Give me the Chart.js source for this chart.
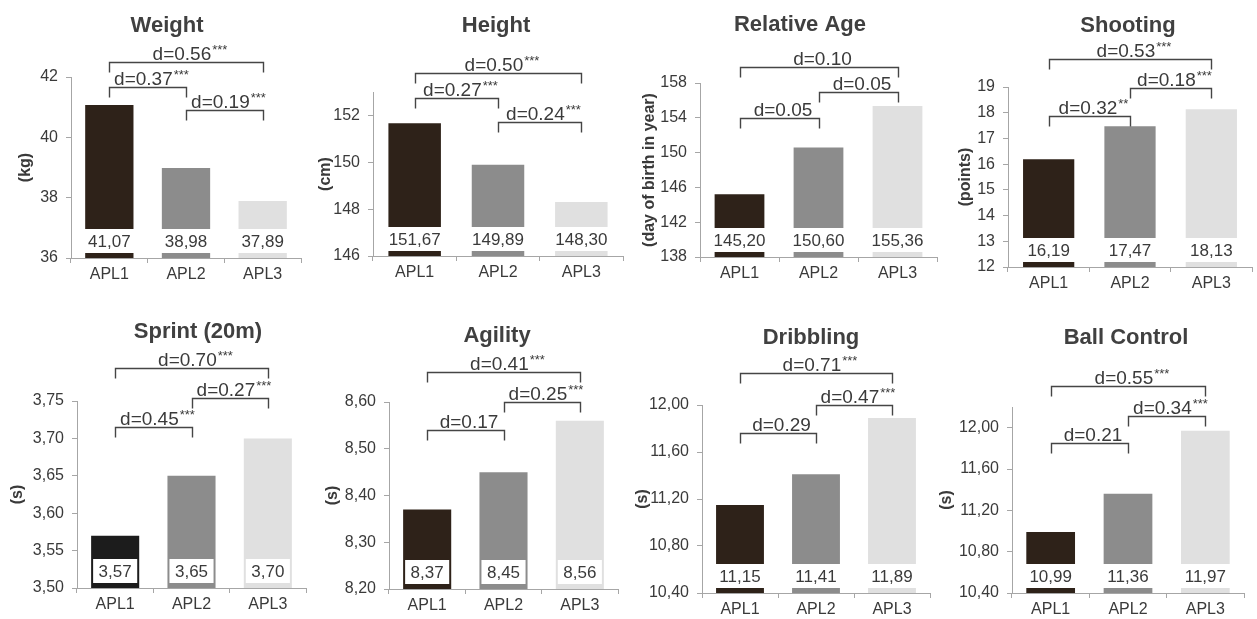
<!DOCTYPE html>
<html>
<head>
<meta charset="utf-8">
<script src="https://cdn.jsdelivr.net/npm/chart.js@4"></script>
<style>
  html, body { margin: 0; padding: 0; background: #fff; width: 1257px; height: 619px; overflow: hidden; position: relative; }
  canvas { position: absolute; }
</style>
</head>
<body>
<script>
'use strict';

// ── Data ──────────────────────────────────────────────────────────────────────

const categories = ['APL1', 'APL2', 'APL3'];

const titles = ['Weight', 'Height', 'Relative Age', 'Shooting', 'Sprint (20m)', 'Agility', 'Dribbling', 'Ball Control'];
const units  = ['(kg)', '(cm)', '(day of birth in year)', '(points)', '(s)', '(s)', '(s)', '(s)'];

const weightValues   = [41.07, 38.98, 37.89];
const heightValues   = [151.67, 149.89, 148.30];
const relAgeValues   = [145.20, 150.60, 155.36];
const shootingValues = [16.19, 17.47, 18.13];
const sprintValues   = [3.57, 3.65, 3.70];
const agilityValues  = [8.37, 8.45, 8.56];
const dribbleValues  = [11.15, 11.41, 11.89];
const ballValues     = [10.99, 11.36, 11.97];

const weightTicks   = [36, 38, 40, 42];
const heightTicks   = [146, 148, 150, 152];
const relAgeTicks   = [138, 142, 146, 150, 154, 158];
const shootingTicks = [12, 13, 14, 15, 16, 17, 18, 19];
const sprintTicks   = [3.50, 3.55, 3.60, 3.65, 3.70, 3.75];
const agilityTicks  = [8.20, 8.30, 8.40, 8.50, 8.60];
const dribbleTicks  = [10.40, 10.80, 11.20, 11.60, 12.00];
const ballTicks     = [10.40, 10.80, 11.20, 11.60, 12.00];

// axis ranges (min, max)
const weightRange   = [36, 42];
const heightRange   = [146, 153];
const relAgeRange   = [138, 158];
const shootingRange = [12, 19];
const sprintRange   = [3.50, 3.75];
const agilityRange  = [8.20, 8.60];
const dribbleRange  = [10.40, 12.00];
const ballRange     = [10.40, 12.20];

// effect sizes, top bracket first, with the pair of groups they compare
const weightEffects   = ['d=0.56***', 'd=0.37***', 'd=0.19***'];
const heightEffects   = ['d=0.50***', 'd=0.27***', 'd=0.24***'];
const relAgeEffects   = ['d=0.10', 'd=0.05', 'd=0.05'];
const shootingEffects = ['d=0.53***', 'd=0.18***', 'd=0.32**'];
const sprintEffects   = ['d=0.70***', 'd=0.27***', 'd=0.45***'];
const agilityEffects  = ['d=0.41***', 'd=0.25***', 'd=0.17'];
const dribbleEffects  = ['d=0.71***', 'd=0.47***', 'd=0.29'];
const ballEffects     = ['d=0.55***', 'd=0.34***', 'd=0.21'];

const pairsDown = [[0, 2], [0, 1], [1, 2]];
const pairsUp   = [[0, 2], [1, 2], [0, 1]];

// ── Style ─────────────────────────────────────────────────────────────────────

const FONT  = '"Liberation Sans", Arial, Helvetica, sans-serif';
const TEXT  = '#3a3a3a';
const AXIS  = '#a6a6a6';
const BRACE = '#454545';
const BROWN = '#2e2219';
const BLACK = '#1c1c1c';
const MID   = '#8c8c8c';
const LIGHT = '#e0e0e0';

// page layout: chart area [l, t, r, b], title [centre x, baseline], y title centre x,
// bracket offsets from chart-area top, inset of the value box
const panels = [
  { values: weightValues,   ticks: weightTicks,   range: weightRange,   effects: weightEffects,   pairs: pairsDown, dec: 0, dark: BROWN,
    area: [71, 77, 301, 258],    title: [167, 32],   yTitleX: 26,  levels: [-15, 10, 33], inset: -1 },
  { values: heightValues,   ticks: heightTicks,   range: heightRange,   effects: heightEffects,   pairs: pairsDown, dec: 0, dark: BROWN,
    area: [373, 92, 623, 256],   title: [496, 32],   yTitleX: 326, levels: [-19, 6, 30],  inset: -1 },
  { values: relAgeValues,   ticks: relAgeTicks,   range: relAgeRange,   effects: relAgeEffects,   pairs: pairsUp,   dec: 0, dark: BROWN,
    area: [700, 83, 937, 257],   title: [800, 31],   yTitleX: 650, levels: [-16, 9, 35],  inset: -1 },
  { values: shootingValues, ticks: shootingTicks, range: shootingRange, effects: shootingEffects, pairs: pairsUp,   dec: 0, dark: BROWN,
    area: [1008, 87, 1252, 267], title: [1128, 32],  yTitleX: 966, levels: [-28, 1, 29],  inset: -1 },
  { values: sprintValues,   ticks: sprintTicks,   range: sprintRange,   effects: sprintEffects,   pairs: pairsUp,   dec: 2, dark: BLACK,
    area: [77, 401, 306, 588],   title: [198, 338],  yTitleX: 18,  levels: [-33, -3, 26], inset: 2 },
  { values: agilityValues,  ticks: agilityTicks,  range: agilityRange,  effects: agilityEffects,  pairs: pairsUp,   dec: 2, dark: BROWN,
    area: [389, 402, 618, 589],  title: [497, 342],  yTitleX: 333, levels: [-30, 0, 28],  inset: 2 },
  { values: dribbleValues,  ticks: dribbleTicks,  range: dribbleRange,  effects: dribbleEffects,  pairs: pairsUp,   dec: 2, dark: BROWN,
    area: [702, 405, 930, 593],  title: [811, 344],  yTitleX: 643, levels: [-32, 0, 28],  inset: -1 },
  { values: ballValues,     ticks: ballTicks,     range: ballRange,     effects: ballEffects,     pairs: pairsUp,   dec: 2, dark: BROWN,
    area: [1012, 407, 1244, 593], title: [1126, 344], yTitleX: 947, levels: [-21, 9, 36],  inset: -1 },
];

// ── Helpers ───────────────────────────────────────────────────────────────────

const fmt = (v, d) => v.toFixed(d).replace('.', ',');

// value boxes, brackets with effect sizes, panel title
const panelPlugin = {
  id: 'panel',
  afterDraw(chart, args, o) {
    const ctx  = chart.ctx;
    const xs   = chart.scales.x;
    const area = chart.chartArea;
    const meta = chart.getDatasetMeta(0);
    const vals = chart.data.datasets[0].data;
    ctx.save();

    // white value boxes near the foot of each bar
    ctx.font = '17px ' + FONT;
    ctx.textAlign = 'center';
    ctx.textBaseline = 'middle';
    meta.data.forEach((bar, i) => {
      const x = bar.x, w = bar.width;
      const bottom = area.bottom - 5, top = bottom - 24;
      ctx.fillStyle = '#fff';
      ctx.fillRect(x - w / 2 + o.inset, top, w - 2 * o.inset, bottom - top);
      ctx.fillStyle = TEXT;
      ctx.fillText(fmt(vals[i], 2), x, top + 13);
    });

    // significance brackets
    o.effects.forEach((label, k) => {
      const [i, j] = o.pairs[k];
      const x0 = Math.round(xs.getPixelForValue(i)) + 0.5;
      const x1 = Math.round(xs.getPixelForValue(j)) + 0.5;
      const y  = Math.round(area.top + o.levels[k]) + 0.5;
      ctx.strokeStyle = BRACE;
      ctx.lineWidth = 1.4;
      ctx.beginPath();
      ctx.moveTo(x0, y + 10);
      ctx.lineTo(x0, y);
      ctx.lineTo(x1, y);
      ctx.lineTo(x1, y + 10);
      ctx.stroke();

      const m     = label.match(/^(.*?)(\*+)?$/);
      const main  = m[1], stars = m[2] || '';
      ctx.font = '19px ' + FONT;
      const wMain = ctx.measureText(main).width;
      ctx.font = '13px ' + FONT;
      const wStar = ctx.measureText(stars).width;
      const sx = (x0 + x1) / 2 - (wMain + wStar) / 2 + 3;
      ctx.fillStyle = TEXT;
      ctx.textAlign = 'left';
      ctx.textBaseline = 'alphabetic';
      ctx.font = '19px ' + FONT;
      ctx.fillText(main, sx, y - 3);
      ctx.font = '13px ' + FONT;
      ctx.fillText(stars, sx + wMain + 1, y - 9);
    });

    ctx.font = 'bold 22px ' + FONT;
    ctx.textAlign = 'center';
    ctx.textBaseline = 'alphabetic';
    ctx.fillStyle = '#404040';
    ctx.fillText(o.title, o.titleX, o.titleY);
    ctx.restore();
  },
};

// ── Charts ────────────────────────────────────────────────────────────────────

panels.forEach((p, n) => {
  const [l, t, r, b] = p.area;
  const cl = p.yTitleX - 14;
  const ct = p.title[1] - 30;
  const cw = r + 8 - cl;
  const ch = b + 30 - ct;

  const canvas = document.createElement('canvas');
  canvas.width  = cw;
  canvas.height = ch;
  canvas.style.left = cl + 'px';
  canvas.style.top  = ct + 'px';
  document.body.appendChild(canvas);

  new Chart(canvas, {
    type: 'bar',
    data: {
      labels: categories,
      datasets: [{
        data: p.values,
        backgroundColor: [p.dark, MID, LIGHT],
        borderWidth: 0,
        barPercentage: 0.63,
        categoryPercentage: 1,
      }],
    },
    options: {
      responsive: false,
      animation: false,
      devicePixelRatio: 1,
      layout: { padding: { top: t - ct, left: 0, right: cw - (r - cl), bottom: 0 } },
      plugins: {
        legend: { display: false },
        tooltip: { enabled: false },
        panel: {
          title: titles[n],
          titleX: p.title[0] - cl,
          titleY: p.title[1] - ct,
          effects: p.effects,
          pairs: p.pairs,
          levels: p.levels,
          inset: p.inset,
        },
      },
      scales: {
        x: {
          grid: { offset: true, drawOnChartArea: false, tickLength: 5, color: AXIS },
          border: { color: AXIS },
          ticks: { color: TEXT, font: { family: FONT, size: 16 }, padding: 2 },
          afterFit: s => { s.height = 30; },
        },
        y: {
          min: p.range[0],
          max: p.range[1],
          afterBuildTicks: s => { s.ticks = p.ticks.map(v => ({ value: v })); },
          grid: { drawOnChartArea: false, tickLength: 5, color: AXIS },
          border: { color: AXIS },
          ticks: {
            color: TEXT,
            font: { family: FONT, size: 16 },
            padding: 8,
            callback: v => fmt(v, p.dec),
          },
          title: {
            display: true,
            text: units[n],
            color: TEXT,
            font: { family: FONT, size: 16, weight: 'bold' },
            padding: { top: 4, bottom: 0 },
          },
          afterFit: s => { s.width = l - cl; },
        },
      },
    },
    plugins: [panelPlugin],
  });
});
</script>
</body>
</html>
